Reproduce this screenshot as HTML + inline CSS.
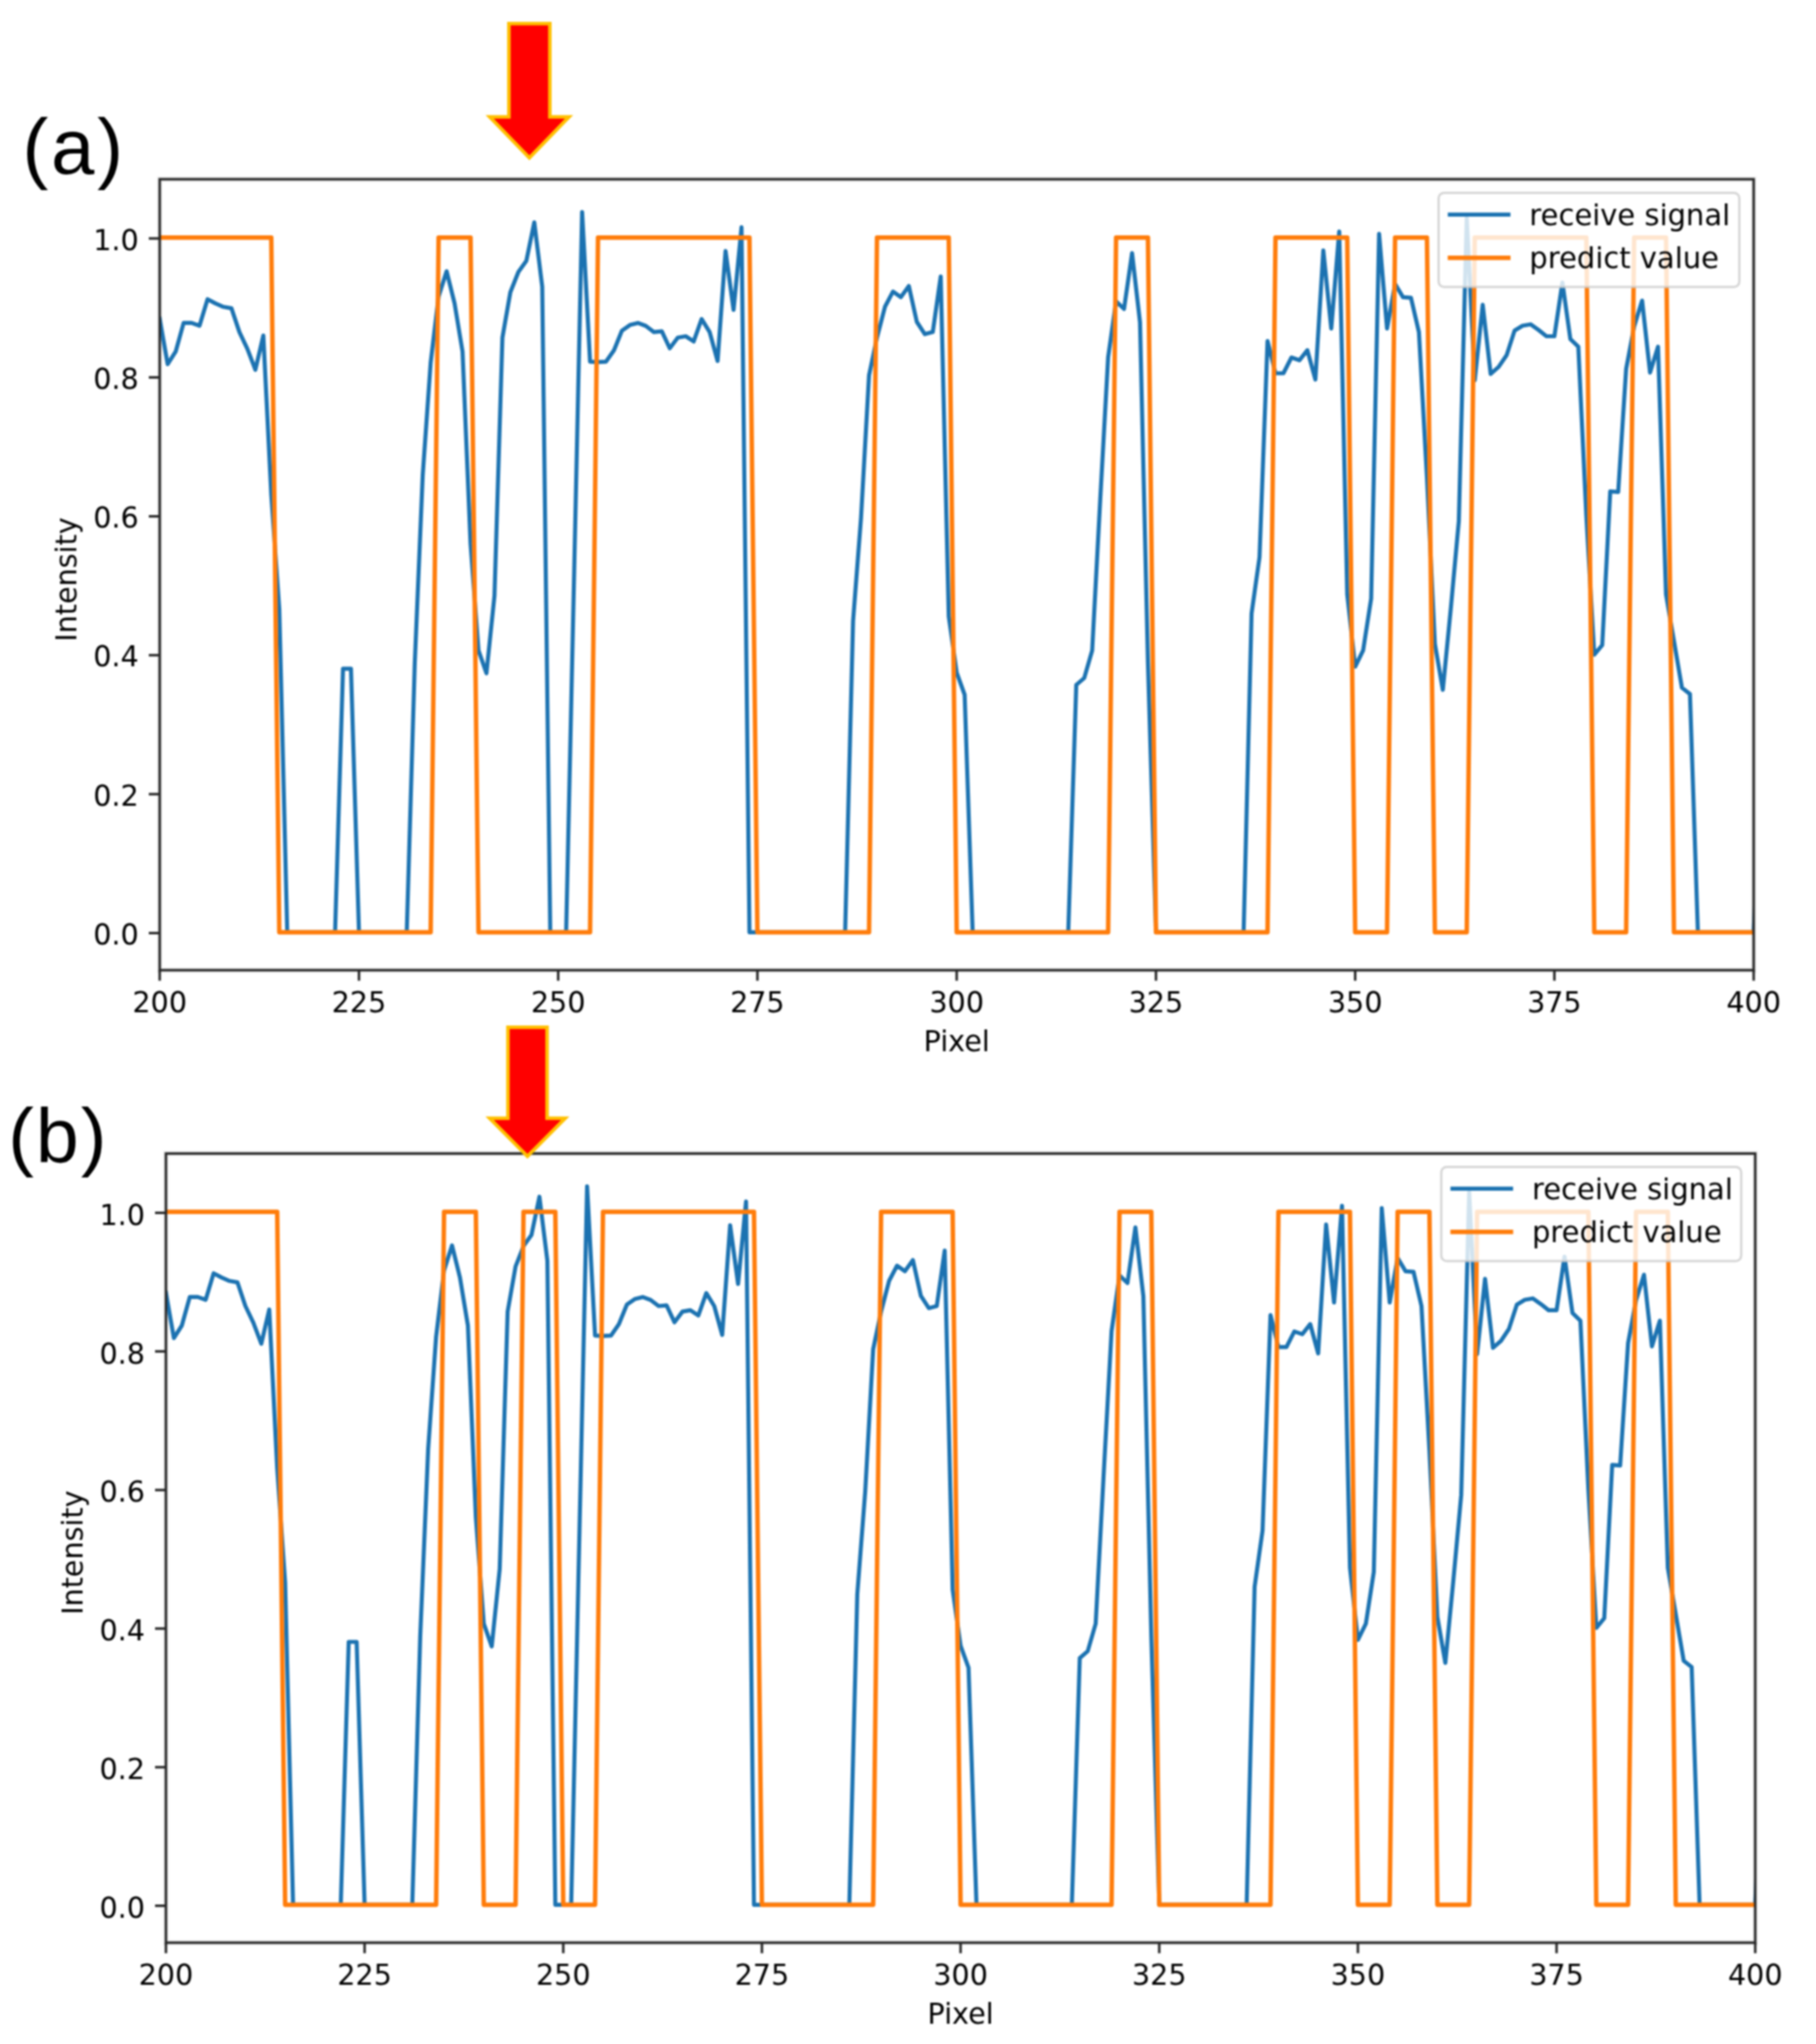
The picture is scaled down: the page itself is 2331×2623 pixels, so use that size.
<!DOCTYPE html>
<html lang="en"><head><meta charset="utf-8"><title>Signal vs prediction</title>
<style>
html,body{margin:0;padding:0;background:#ffffff;}
body{width:2331px;height:2623px;overflow:hidden;}
svg{display:block;filter:blur(0.8px);}
</style></head>
<body>
<svg width="2331" height="2623" viewBox="0 0 2331 2623">
<rect width="2331" height="2623" fill="#ffffff"/>
<clipPath id="clipa"><rect x="205" y="230" width="2046" height="1015"/></clipPath>
<rect x="205" y="230" width="2046" height="1015" fill="none" stroke="#f0f0f0" stroke-width="7"/>
<g clip-path="url(#clipa)" fill="none" stroke-linejoin="round" stroke-linecap="square">
<polyline stroke="#1b72b1" stroke-width="5.2" points="205.0,409.1 215.2,467.3 225.5,451.2 235.7,414.4 245.9,414.4 256.1,418.0 266.4,384.0 276.6,389.4 286.8,393.8 297.1,395.6 307.3,426.1 317.5,447.6 327.8,474.5 338.0,430.6 348.2,634.9 358.5,781.6 368.7,1196.3 378.9,1196.3 389.1,1196.3 399.4,1196.3 409.6,1196.3 419.8,1196.3 430.1,1196.3 440.3,858.2 450.5,858.2 460.8,1196.3 471.0,1196.3 481.2,1196.3 491.4,1196.3 501.7,1196.3 511.9,1196.3 522.1,1196.3 532.4,851.0 542.6,609.8 552.8,465.4 563.0,380.4 573.3,348.1 583.5,389.4 593.7,451.2 604.0,697.9 614.2,834.7 624.4,864.0 634.7,764.5 644.9,433.3 655.1,375.0 665.4,349.0 675.6,334.7 685.8,285.4 696.0,367.9 706.3,1196.3 716.5,1196.3 726.7,1196.3 737.0,733.9 747.2,272.0 757.4,464.1 767.6,464.6 777.9,464.1 788.1,449.4 798.3,424.3 808.6,417.1 818.8,414.4 829.0,418.3 839.3,426.1 849.5,425.2 859.7,447.0 870.0,433.3 880.2,431.5 890.4,438.2 900.6,409.4 910.9,426.1 921.1,463.2 931.3,322.2 941.6,397.7 951.8,291.7 962.0,1196.3 972.2,1196.3 982.5,1196.3 992.7,1196.3 1002.9,1196.3 1013.2,1196.3 1023.4,1196.3 1033.6,1196.3 1043.9,1196.3 1054.1,1196.3 1064.3,1196.3 1074.6,1196.3 1084.8,1196.3 1095.0,796.9 1105.2,664.6 1115.5,481.6 1125.7,433.3 1135.9,393.8 1146.2,374.1 1156.4,381.3 1166.6,367.0 1176.8,413.0 1187.1,428.8 1197.3,426.1 1207.5,354.9 1217.8,790.8 1228.0,863.1 1238.2,891.5 1248.5,1196.3 1258.7,1196.3 1268.9,1196.3 1279.2,1196.3 1289.4,1196.3 1299.6,1196.3 1309.8,1196.3 1320.1,1196.3 1330.3,1196.3 1340.5,1196.3 1350.8,1196.3 1361.0,1196.3 1371.2,1196.3 1381.5,878.9 1391.7,870.1 1401.9,834.7 1412.1,643.9 1422.4,458.4 1432.6,386.7 1442.8,396.5 1453.1,324.8 1463.3,413.6 1473.5,851.0 1483.8,1196.3 1494.0,1196.3 1504.2,1196.3 1514.4,1196.3 1524.7,1196.3 1534.9,1196.3 1545.1,1196.3 1555.4,1196.3 1565.6,1196.3 1575.8,1196.3 1586.0,1196.3 1596.3,1196.3 1606.5,787.3 1616.7,715.0 1627.0,437.7 1637.2,479.0 1647.4,479.0 1657.7,458.8 1667.9,462.3 1678.1,449.4 1688.4,487.0 1698.6,321.3 1708.8,421.6 1719.0,297.1 1729.3,762.7 1739.5,855.5 1749.7,834.7 1760.0,768.1 1770.2,300.2 1780.4,421.6 1790.7,364.3 1800.9,381.3 1811.1,382.2 1821.3,426.1 1831.6,612.3 1841.8,826.1 1852.0,885.2 1862.3,780.3 1872.5,669.1 1882.7,279.2 1893.0,487.9 1903.2,391.2 1913.4,479.9 1923.6,470.9 1933.9,455.7 1944.1,424.3 1954.3,418.0 1964.6,416.2 1974.8,423.4 1985.0,431.5 1995.2,431.5 2005.5,362.5 2015.7,435.1 2025.9,444.9 2036.2,661.9 2046.4,840.1 2056.6,827.8 2066.9,630.5 2077.1,631.3 2087.3,473.6 2097.6,418.9 2107.8,385.8 2118.0,478.1 2128.2,444.9 2138.5,762.7 2148.7,822.6 2158.9,882.5 2169.2,890.6 2179.4,1196.3 2189.6,1196.3 2199.9,1196.3 2210.1,1196.3 2220.3,1196.3 2230.5,1196.3 2240.8,1196.3 2251.0,1196.3 2261.2,977.0"/>
<polyline stroke="#ff7c0a" stroke-width="5.7" points="205.0,304.9 215.2,304.9 225.5,304.9 235.7,304.9 245.9,304.9 256.1,304.9 266.4,304.9 276.6,304.9 286.8,304.9 297.1,304.9 307.3,304.9 317.5,304.9 327.8,304.9 338.0,304.9 348.2,304.9 358.5,1196.3 368.7,1196.3 378.9,1196.3 389.1,1196.3 399.4,1196.3 409.6,1196.3 419.8,1196.3 430.1,1196.3 440.3,1196.3 450.5,1196.3 460.8,1196.3 471.0,1196.3 481.2,1196.3 491.4,1196.3 501.7,1196.3 511.9,1196.3 522.1,1196.3 532.4,1196.3 542.6,1196.3 552.8,1196.3 563.0,304.9 573.3,304.9 583.5,304.9 593.7,304.9 604.0,304.9 614.2,1196.3 624.4,1196.3 634.7,1196.3 644.9,1196.3 655.1,1196.3 665.4,1196.3 675.6,1196.3 685.8,1196.3 696.0,1196.3 706.3,1196.3 716.5,1196.3 726.7,1196.3 737.0,1196.3 747.2,1196.3 757.4,1196.3 767.6,304.9 777.9,304.9 788.1,304.9 798.3,304.9 808.6,304.9 818.8,304.9 829.0,304.9 839.3,304.9 849.5,304.9 859.7,304.9 870.0,304.9 880.2,304.9 890.4,304.9 900.6,304.9 910.9,304.9 921.1,304.9 931.3,304.9 941.6,304.9 951.8,304.9 962.0,304.9 972.2,1196.3 982.5,1196.3 992.7,1196.3 1002.9,1196.3 1013.2,1196.3 1023.4,1196.3 1033.6,1196.3 1043.9,1196.3 1054.1,1196.3 1064.3,1196.3 1074.6,1196.3 1084.8,1196.3 1095.0,1196.3 1105.2,1196.3 1115.5,1196.3 1125.7,304.9 1135.9,304.9 1146.2,304.9 1156.4,304.9 1166.6,304.9 1176.8,304.9 1187.1,304.9 1197.3,304.9 1207.5,304.9 1217.8,304.9 1228.0,1196.3 1238.2,1196.3 1248.5,1196.3 1258.7,1196.3 1268.9,1196.3 1279.2,1196.3 1289.4,1196.3 1299.6,1196.3 1309.8,1196.3 1320.1,1196.3 1330.3,1196.3 1340.5,1196.3 1350.8,1196.3 1361.0,1196.3 1371.2,1196.3 1381.5,1196.3 1391.7,1196.3 1401.9,1196.3 1412.1,1196.3 1422.4,1196.3 1432.6,304.9 1442.8,304.9 1453.1,304.9 1463.3,304.9 1473.5,304.9 1483.8,1196.3 1494.0,1196.3 1504.2,1196.3 1514.4,1196.3 1524.7,1196.3 1534.9,1196.3 1545.1,1196.3 1555.4,1196.3 1565.6,1196.3 1575.8,1196.3 1586.0,1196.3 1596.3,1196.3 1606.5,1196.3 1616.7,1196.3 1627.0,1196.3 1637.2,304.9 1647.4,304.9 1657.7,304.9 1667.9,304.9 1678.1,304.9 1688.4,304.9 1698.6,304.9 1708.8,304.9 1719.0,304.9 1729.3,304.9 1739.5,1196.3 1749.7,1196.3 1760.0,1196.3 1770.2,1196.3 1780.4,1196.3 1790.7,304.9 1800.9,304.9 1811.1,304.9 1821.3,304.9 1831.6,304.9 1841.8,1196.3 1852.0,1196.3 1862.3,1196.3 1872.5,1196.3 1882.7,1196.3 1893.0,304.9 1903.2,304.9 1913.4,304.9 1923.6,304.9 1933.9,304.9 1944.1,304.9 1954.3,304.9 1964.6,304.9 1974.8,304.9 1985.0,304.9 1995.2,304.9 2005.5,304.9 2015.7,304.9 2025.9,304.9 2036.2,304.9 2046.4,1196.3 2056.6,1196.3 2066.9,1196.3 2077.1,1196.3 2087.3,1196.3 2097.6,304.9 2107.8,304.9 2118.0,304.9 2128.2,304.9 2138.5,304.9 2148.7,1196.3 2158.9,1196.3 2169.2,1196.3 2179.4,1196.3 2189.6,1196.3 2199.9,1196.3 2210.1,1196.3 2220.3,1196.3 2230.5,1196.3 2240.8,1196.3 2251.0,1196.3"/>
</g>
<rect x="1846.6" y="247.5" width="386.0" height="120.80000000000001" rx="7" ry="7" fill="#ffffff" fill-opacity="0.8" stroke="#cccccc" stroke-opacity="0.8" stroke-width="3"/>
<line x1="1861.1" x2="1936.1" y1="275.4" y2="275.4" stroke="#1b72b1" stroke-width="5.4" stroke-linecap="square"/>
<line x1="1861.1" x2="1936.1" y1="330.9" y2="330.9" stroke="#ff7c0a" stroke-width="5.6" stroke-linecap="square"/>
 <text x="1963.1" y="288.5" font-family="DejaVu Sans, Liberation Sans, sans-serif" font-size="37.2" fill="#000000">receive signal</text>
 <text x="1963.1" y="343.5" font-family="DejaVu Sans, Liberation Sans, sans-serif" font-size="37.2" fill="#000000">predict value</text>
<rect x="205" y="230" width="2046" height="1015" fill="none" stroke="#262626" stroke-width="3.2"/>
<g stroke="#262626" stroke-width="3.2">
<line x1="205.0" x2="205.0" y1="1245" y2="1258.5"/>
<line x1="460.8" x2="460.8" y1="1245" y2="1258.5"/>
<line x1="716.5" x2="716.5" y1="1245" y2="1258.5"/>
<line x1="972.2" x2="972.2" y1="1245" y2="1258.5"/>
<line x1="1228.0" x2="1228.0" y1="1245" y2="1258.5"/>
<line x1="1483.8" x2="1483.8" y1="1245" y2="1258.5"/>
<line x1="1739.5" x2="1739.5" y1="1245" y2="1258.5"/>
<line x1="1995.2" x2="1995.2" y1="1245" y2="1258.5"/>
<line x1="2251.0" x2="2251.0" y1="1245" y2="1258.5"/>
<line x1="191" x2="205" y1="1197.4" y2="1197.4"/>
<line x1="191" x2="205" y1="1019.1" y2="1019.1"/>
<line x1="191" x2="205" y1="840.8" y2="840.8"/>
<line x1="191" x2="205" y1="662.6" y2="662.6"/>
<line x1="191" x2="205" y1="484.3" y2="484.3"/>
<line x1="191" x2="205" y1="306.0" y2="306.0"/>
</g>
<g font-family="DejaVu Sans, Liberation Sans, sans-serif" font-size="36.7" fill="#000000">
<text x="205.0" y="1299.4" text-anchor="middle">200</text>
<text x="460.8" y="1299.4" text-anchor="middle">225</text>
<text x="716.5" y="1299.4" text-anchor="middle">250</text>
<text x="972.2" y="1299.4" text-anchor="middle">275</text>
<text x="1228.0" y="1299.4" text-anchor="middle">300</text>
<text x="1483.8" y="1299.4" text-anchor="middle">325</text>
<text x="1739.5" y="1299.4" text-anchor="middle">350</text>
<text x="1995.2" y="1299.4" text-anchor="middle">375</text>
<text x="2251.0" y="1299.4" text-anchor="middle">400</text>
<text x="178" y="1211.9" text-anchor="end">0.0</text>
<text x="178" y="1033.6" text-anchor="end">0.2</text>
<text x="178" y="855.3" text-anchor="end">0.4</text>
<text x="178" y="677.1" text-anchor="end">0.6</text>
<text x="178" y="498.8" text-anchor="end">0.8</text>
<text x="178" y="320.5" text-anchor="end">1.0</text>
<text x="1228.0" y="1349" text-anchor="middle">Pixel</text>
<text transform="translate(97.7,743.7) rotate(-90)" text-anchor="middle">Intensity</text>
</g>
<clipPath id="clipb"><rect x="213" y="1480.3" width="2040" height="1012.7"/></clipPath>
<rect x="213" y="1480.3" width="2040" height="1012.7" fill="none" stroke="#f0f0f0" stroke-width="7"/>
<g clip-path="url(#clipb)" fill="none" stroke-linejoin="round" stroke-linecap="square">
<polyline stroke="#1b72b1" stroke-width="5.2" points="213.0,1659.0 223.2,1717.1 233.4,1701.0 243.6,1664.4 253.8,1664.4 264.0,1668.0 274.2,1634.0 284.4,1639.4 294.6,1643.8 304.8,1645.6 315.0,1676.0 325.2,1697.4 335.4,1724.3 345.6,1680.5 355.8,1884.2 366.0,2030.6 376.2,2444.3 386.4,2444.3 396.6,2444.3 406.8,2444.3 417.0,2444.3 427.2,2444.3 437.4,2444.3 447.6,2107.0 457.8,2107.0 468.0,2444.3 478.2,2444.3 488.4,2444.3 498.6,2444.3 508.8,2444.3 519.0,2444.3 529.2,2444.3 539.4,2099.8 549.6,1859.2 559.8,1715.2 570.0,1630.4 580.2,1598.2 590.4,1639.4 600.6,1701.0 610.8,1947.1 621.0,2083.6 631.2,2112.8 641.4,2013.6 651.6,1683.1 661.8,1625.1 672.0,1599.1 682.2,1584.8 692.4,1535.7 702.6,1617.9 712.8,2444.3 723.0,2444.3 733.2,2444.3 743.4,1983.0 753.6,1522.3 763.8,1713.9 774.0,1714.4 784.2,1713.9 794.4,1699.2 804.6,1674.2 814.8,1667.1 825.0,1664.4 835.2,1668.2 845.4,1676.0 855.6,1675.1 865.8,1696.8 876.0,1683.1 886.2,1681.4 896.4,1688.1 906.6,1659.4 916.8,1676.0 927.0,1713.0 937.2,1572.3 947.4,1647.7 957.6,1541.9 967.8,2444.3 978.0,2444.3 988.2,2444.3 998.4,2444.3 1008.6,2444.3 1018.8,2444.3 1029.0,2444.3 1039.2,2444.3 1049.4,2444.3 1059.6,2444.3 1069.8,2444.3 1080.0,2444.3 1090.2,2444.3 1100.4,2045.9 1110.6,1913.9 1120.8,1731.4 1131.0,1683.1 1141.2,1643.8 1151.4,1624.2 1161.6,1631.3 1171.8,1617.0 1182.0,1662.9 1192.2,1678.7 1202.4,1676.0 1212.6,1604.9 1222.8,2039.8 1233.0,2111.9 1243.2,2140.2 1253.4,2444.3 1263.6,2444.3 1273.8,2444.3 1284.0,2444.3 1294.2,2444.3 1304.4,2444.3 1314.6,2444.3 1324.8,2444.3 1335.0,2444.3 1345.2,2444.3 1355.4,2444.3 1365.6,2444.3 1375.8,2444.3 1386.0,2127.7 1396.2,2118.9 1406.4,2083.6 1416.6,1893.2 1426.8,1708.2 1437.0,1636.7 1447.2,1646.5 1457.4,1575.0 1467.6,1663.5 1477.8,2099.8 1488.0,2444.3 1498.2,2444.3 1508.4,2444.3 1518.6,2444.3 1528.8,2444.3 1539.0,2444.3 1549.2,2444.3 1559.4,2444.3 1569.6,2444.3 1579.8,2444.3 1590.0,2444.3 1600.2,2444.3 1610.4,2036.3 1620.6,1964.2 1630.8,1687.6 1641.0,1728.7 1651.2,1728.7 1661.4,1708.6 1671.6,1712.1 1681.8,1699.2 1692.0,1736.8 1702.2,1571.4 1712.4,1671.5 1722.6,1547.3 1732.8,2011.8 1743.0,2104.3 1753.2,2083.6 1763.4,2017.2 1773.6,1550.4 1783.8,1671.5 1794.0,1614.3 1804.2,1631.3 1814.4,1632.2 1824.6,1676.0 1834.8,1861.8 1845.0,2075.0 1855.2,2133.9 1865.4,2029.3 1875.6,1918.4 1885.8,1529.4 1896.0,1737.7 1906.2,1641.1 1916.4,1729.6 1926.6,1720.7 1936.8,1705.5 1947.0,1674.2 1957.2,1668.0 1967.4,1666.2 1977.6,1673.3 1987.8,1681.4 1998.0,1681.4 2008.2,1612.5 2018.4,1684.9 2028.6,1694.8 2038.8,1911.2 2049.0,2089.0 2059.2,2076.7 2069.4,1879.9 2079.6,1880.7 2089.8,1723.4 2100.0,1668.8 2110.2,1635.8 2120.4,1727.8 2130.6,1694.8 2140.8,2011.8 2151.0,2071.5 2161.2,2131.2 2171.4,2139.3 2181.6,2444.3 2191.8,2444.3 2202.0,2444.3 2212.2,2444.3 2222.4,2444.3 2232.6,2444.3 2242.8,2444.3 2253.0,2444.3 2263.2,2225.6"/>
<polyline stroke="#ff7c0a" stroke-width="5.7" points="213.0,1555.1 223.2,1555.1 233.4,1555.1 243.6,1555.1 253.8,1555.1 264.0,1555.1 274.2,1555.1 284.4,1555.1 294.6,1555.1 304.8,1555.1 315.0,1555.1 325.2,1555.1 335.4,1555.1 345.6,1555.1 355.8,1555.1 366.0,2444.3 376.2,2444.3 386.4,2444.3 396.6,2444.3 406.8,2444.3 417.0,2444.3 427.2,2444.3 437.4,2444.3 447.6,2444.3 457.8,2444.3 468.0,2444.3 478.2,2444.3 488.4,2444.3 498.6,2444.3 508.8,2444.3 519.0,2444.3 529.2,2444.3 539.4,2444.3 549.6,2444.3 559.8,2444.3 570.0,1555.1 580.2,1555.1 590.4,1555.1 600.6,1555.1 610.8,1555.1 621.0,2444.3 631.2,2444.3 641.4,2444.3 651.6,2444.3 661.8,2444.3 672.0,1555.1 682.2,1555.1 692.4,1555.1 702.6,1555.1 712.8,1555.1 723.0,2444.3 733.2,2444.3 743.4,2444.3 753.6,2444.3 763.8,2444.3 774.0,1555.1 784.2,1555.1 794.4,1555.1 804.6,1555.1 814.8,1555.1 825.0,1555.1 835.2,1555.1 845.4,1555.1 855.6,1555.1 865.8,1555.1 876.0,1555.1 886.2,1555.1 896.4,1555.1 906.6,1555.1 916.8,1555.1 927.0,1555.1 937.2,1555.1 947.4,1555.1 957.6,1555.1 967.8,1555.1 978.0,2444.3 988.2,2444.3 998.4,2444.3 1008.6,2444.3 1018.8,2444.3 1029.0,2444.3 1039.2,2444.3 1049.4,2444.3 1059.6,2444.3 1069.8,2444.3 1080.0,2444.3 1090.2,2444.3 1100.4,2444.3 1110.6,2444.3 1120.8,2444.3 1131.0,1555.1 1141.2,1555.1 1151.4,1555.1 1161.6,1555.1 1171.8,1555.1 1182.0,1555.1 1192.2,1555.1 1202.4,1555.1 1212.6,1555.1 1222.8,1555.1 1233.0,2444.3 1243.2,2444.3 1253.4,2444.3 1263.6,2444.3 1273.8,2444.3 1284.0,2444.3 1294.2,2444.3 1304.4,2444.3 1314.6,2444.3 1324.8,2444.3 1335.0,2444.3 1345.2,2444.3 1355.4,2444.3 1365.6,2444.3 1375.8,2444.3 1386.0,2444.3 1396.2,2444.3 1406.4,2444.3 1416.6,2444.3 1426.8,2444.3 1437.0,1555.1 1447.2,1555.1 1457.4,1555.1 1467.6,1555.1 1477.8,1555.1 1488.0,2444.3 1498.2,2444.3 1508.4,2444.3 1518.6,2444.3 1528.8,2444.3 1539.0,2444.3 1549.2,2444.3 1559.4,2444.3 1569.6,2444.3 1579.8,2444.3 1590.0,2444.3 1600.2,2444.3 1610.4,2444.3 1620.6,2444.3 1630.8,2444.3 1641.0,1555.1 1651.2,1555.1 1661.4,1555.1 1671.6,1555.1 1681.8,1555.1 1692.0,1555.1 1702.2,1555.1 1712.4,1555.1 1722.6,1555.1 1732.8,1555.1 1743.0,2444.3 1753.2,2444.3 1763.4,2444.3 1773.6,2444.3 1783.8,2444.3 1794.0,1555.1 1804.2,1555.1 1814.4,1555.1 1824.6,1555.1 1834.8,1555.1 1845.0,2444.3 1855.2,2444.3 1865.4,2444.3 1875.6,2444.3 1885.8,2444.3 1896.0,1555.1 1906.2,1555.1 1916.4,1555.1 1926.6,1555.1 1936.8,1555.1 1947.0,1555.1 1957.2,1555.1 1967.4,1555.1 1977.6,1555.1 1987.8,1555.1 1998.0,1555.1 2008.2,1555.1 2018.4,1555.1 2028.6,1555.1 2038.8,1555.1 2049.0,2444.3 2059.2,2444.3 2069.4,2444.3 2079.6,2444.3 2089.8,2444.3 2100.0,1555.1 2110.2,1555.1 2120.4,1555.1 2130.6,1555.1 2140.8,1555.1 2151.0,2444.3 2161.2,2444.3 2171.4,2444.3 2181.6,2444.3 2191.8,2444.3 2202.0,2444.3 2212.2,2444.3 2222.4,2444.3 2232.6,2444.3 2242.8,2444.3 2253.0,2444.3"/>
</g>
<rect x="1850" y="1497.5" width="385" height="120.79999999999995" rx="7" ry="7" fill="#ffffff" fill-opacity="0.8" stroke="#cccccc" stroke-opacity="0.8" stroke-width="3"/>
<line x1="1864.5" x2="1939.5" y1="1525.4" y2="1525.4" stroke="#1b72b1" stroke-width="5.4" stroke-linecap="square"/>
<line x1="1864.5" x2="1939.5" y1="1580.9" y2="1580.9" stroke="#ff7c0a" stroke-width="5.6" stroke-linecap="square"/>
 <text x="1966.5" y="1538.5" font-family="DejaVu Sans, Liberation Sans, sans-serif" font-size="37.2" fill="#000000">receive signal</text>
 <text x="1966.5" y="1593.5" font-family="DejaVu Sans, Liberation Sans, sans-serif" font-size="37.2" fill="#000000">predict value</text>
<rect x="213" y="1480.3" width="2040" height="1012.7" fill="none" stroke="#262626" stroke-width="3.2"/>
<g stroke="#262626" stroke-width="3.2">
<line x1="213.0" x2="213.0" y1="2493" y2="2506.5"/>
<line x1="468.0" x2="468.0" y1="2493" y2="2506.5"/>
<line x1="723.0" x2="723.0" y1="2493" y2="2506.5"/>
<line x1="978.0" x2="978.0" y1="2493" y2="2506.5"/>
<line x1="1233.0" x2="1233.0" y1="2493" y2="2506.5"/>
<line x1="1488.0" x2="1488.0" y1="2493" y2="2506.5"/>
<line x1="1743.0" x2="1743.0" y1="2493" y2="2506.5"/>
<line x1="1998.0" x2="1998.0" y1="2493" y2="2506.5"/>
<line x1="2253.0" x2="2253.0" y1="2493" y2="2506.5"/>
<line x1="199" x2="213" y1="2445.6" y2="2445.6"/>
<line x1="199" x2="213" y1="2267.8" y2="2267.8"/>
<line x1="199" x2="213" y1="2089.9" y2="2089.9"/>
<line x1="199" x2="213" y1="1912.1" y2="1912.1"/>
<line x1="199" x2="213" y1="1734.2" y2="1734.2"/>
<line x1="199" x2="213" y1="1556.4" y2="1556.4"/>
</g>
<g font-family="DejaVu Sans, Liberation Sans, sans-serif" font-size="36.7" fill="#000000">
<text x="213.0" y="2547" text-anchor="middle">200</text>
<text x="468.0" y="2547" text-anchor="middle">225</text>
<text x="723.0" y="2547" text-anchor="middle">250</text>
<text x="978.0" y="2547" text-anchor="middle">275</text>
<text x="1233.0" y="2547" text-anchor="middle">300</text>
<text x="1488.0" y="2547" text-anchor="middle">325</text>
<text x="1743.0" y="2547" text-anchor="middle">350</text>
<text x="1998.0" y="2547" text-anchor="middle">375</text>
<text x="2253.0" y="2547" text-anchor="middle">400</text>
<text x="186" y="2460.9" text-anchor="end">0.0</text>
<text x="186" y="2283.1" text-anchor="end">0.2</text>
<text x="186" y="2105.2" text-anchor="end">0.4</text>
<text x="186" y="1927.4" text-anchor="end">0.6</text>
<text x="186" y="1749.5" text-anchor="end">0.8</text>
<text x="186" y="1571.7" text-anchor="end">1.0</text>
<text x="1233.0" y="2596.6" text-anchor="middle">Pixel</text>
<text transform="translate(106.2,1992.5) rotate(-90)" text-anchor="middle">Intensity</text>
</g>
<path d="M653.2,30.2 L705.8,30.2 L705.8,150 L730.4,150 L679.5,202.5 L628.6,150 L653.2,150 Z" fill="#ff0000" stroke="#ffc000" stroke-width="4.5" stroke-linejoin="miter"/>
<path d="M652,1318.3 L702.2,1318.3 L702.2,1435 L725.5,1435 L677,1483.8 L628.5,1435 L652,1435 Z" fill="#ff0000" stroke="#ffc000" stroke-width="4.5" stroke-linejoin="miter"/>
<g font-family="Liberation Sans, Arial, sans-serif" font-size="100" letter-spacing="3.5" fill="#000000">
<text x="28.8" y="223">(a)</text>
<text x="10.5" y="1491" font-size="99" letter-spacing="2.6">(b)</text>
</g>
</svg>
</body></html>
